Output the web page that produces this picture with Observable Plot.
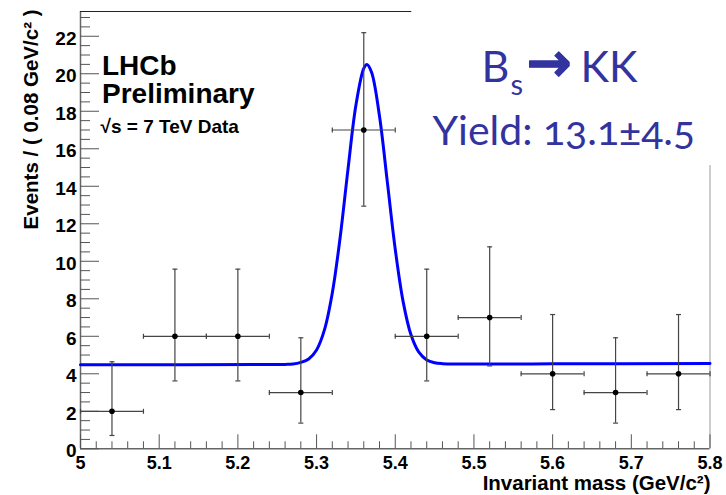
<!DOCTYPE html>
<html>
<head>
<meta charset="utf-8">
<script src="https://cdn.jsdelivr.net/npm/d3@7"></script>
<script src="https://cdn.jsdelivr.net/npm/@observablehq/plot@0.6"></script>
<style>
  html, body { margin: 0; padding: 0; background: #fff; }
  #chart svg { display: block; }
</style>
</head>
<body>
<div id="chart"></div>
<script>
// Bin centres (GeV/c^2), bin width 0.08
const massBins = [5.04, 5.12, 5.20, 5.28, 5.36, 5.44, 5.52, 5.60, 5.68, 5.76];
// Events per bin
const events = [2, 6, 6, 3, 17, 6, 7, 4, 3, 4];
// Asymmetric (Poisson) errors
const errLow  = [1.29, 2.38, 2.38, 1.63, 4.06, 2.38, 2.58, 1.91, 1.63, 1.91];
const errHigh = [2.64, 3.58, 3.58, 2.92, 5.19, 3.58, 3.77, 3.16, 2.92, 3.16];
const halfBin = 0.04;

// Fit curve (signal peak on flat background), sampled
const fitMass = [5.00, 5.26, 5.27, 5.28, 5.29, 5.30, 5.31, 5.32, 5.33, 5.34, 5.35, 5.36, 5.364,
                 5.37, 5.38, 5.39, 5.40, 5.41, 5.42, 5.43, 5.44, 5.45, 5.46, 5.48, 5.60, 5.80];
const fitEvents = [4.48, 4.50, 4.52, 4.61, 4.79, 5.27, 6.34, 8.31, 11.28, 14.93, 18.32, 20.29, 20.50,
                   20.07, 17.73, 14.21, 10.64, 7.85, 6.08, 5.15, 4.74, 4.59, 4.54, 4.52, 4.53, 4.55];

// Axis ticks and labels
const xMajor = [5.0, 5.1, 5.2, 5.3, 5.4, 5.5, 5.6, 5.7, 5.8];
const xTickLabels = ["5", "5.1", "5.2", "5.3", "5.4", "5.5", "5.6", "5.7", "5.8"];
const xMinor = d3.range(0, 41).map(i => 5 + i * 0.02).filter((v, i) => i % 5 !== 0);
const yMajor = [0, 2, 4, 6, 8, 10, 12, 14, 16, 18, 20, 22];
const yMinor = d3.range(0, 47).map(i => i * 0.5).filter((v, i) => i % 4 !== 0);

const xTitle = "Invariant mass (GeV/c²)";
const yTitle = "Events / ( 0.08 GeV/c² )";

const points = massBins.map((m, i) => ({
  m, n: events[i], lo: events[i] - errLow[i], hi: events[i] + errHigh[i],
  x1: m - halfBin, x2: m + halfBin
}));
const fit = fitMass.map((m, i) => ({m, v: fitEvents[i]}));

// small end caps for the error bars
const capH = {draw(ctx) { ctx.moveTo(-2.5, 0); ctx.lineTo(2.5, 0); }};
const capV = {draw(ctx) { ctx.moveTo(0, -2.5); ctx.lineTo(0, 2.5); }};

const yMax = 23.32;
const ink = "#444";
const blue = "#3333a0";
const helv = "'Liberation Sans', Arial, Helvetica, sans-serif";
const sans = "Lato, 'Open Sans', sans-serif";

const chart = Plot.plot({
  width: 726,
  height: 495,
  marginTop: 11,
  marginRight: 16.5,
  marginBottom: 46.7,
  marginLeft: 80,
  x: {domain: [5, 5.8], label: null},
  y: {domain: [0, yMax], label: null},
  style: {fontFamily: helv, background: "#fff", color: "#000", overflow: "visible"},
  marks: [
    // frame
    Plot.ruleX([5], {stroke: "#666", strokeWidth: 1.5}),
    Plot.ruleY([0], {stroke: "#666", strokeWidth: 1.5}),
    Plot.ruleY([yMax], {x1: 5, x2: 5.421, stroke: "#222", strokeWidth: 1}),
    Plot.ruleX([5.8], {y1: 0, y2: 15.1, stroke: "#999", strokeWidth: 1}),

    // x ticks (inward)
    Plot.axisX(xMinor, {tickSize: -7, tickFormat: () => "", stroke: "#555"}),
    Plot.axisX(xMajor, {tickSize: -14, tickFormat: () => "", stroke: "#555"}),
    Plot.axisX(xMajor, {tickSize: 0, tickPadding: 7, tickFormat: (d, i) => xTickLabels[i],
                        fontSize: 18, fontWeight: "bold", fill: "#000"}),
    // y ticks (inward)
    Plot.axisY(yMinor, {tickSize: -10, tickFormat: () => "", stroke: "#555"}),
    Plot.axisY(yMajor, {tickSize: -19, tickFormat: () => "", stroke: "#555"}),
    Plot.axisY(yMajor, {tickSize: 0, tickPadding: 4, dy: 2.5, tickFormat: d => String(d),
                        fontSize: 19, fontWeight: "bold", fill: "#000"}),

    // axis titles
    Plot.text([xTitle], {frameAnchor: "bottom-right", textAnchor: "end", lineAnchor: "bottom",
                         dx: 0.5, dy: 41, fontSize: 20.5, fontWeight: "bold", fill: "#000"}),
    Plot.text([yTitle], {frameAnchor: "top-left", textAnchor: "end", lineAnchor: "bottom",
                         rotate: -90, dx: -43, dy: -2, fontSize: 20.5, fontWeight: "bold", fill: "#000"}),

    // fit curve
    Plot.line(fit, {x: "m", y: "v", curve: "catmull-rom", stroke: "#0000ff", strokeWidth: 3}),

    // error bars
    Plot.ruleX(points, {x: "m", y1: "lo", y2: "hi", stroke: ink, strokeWidth: 1.2}),
    Plot.ruleY(points, {y: "n", x1: "x1", x2: "x2", stroke: ink, strokeWidth: 1.2}),
    Plot.dot(points, {x: "m", y: "lo", symbol: capH, stroke: ink, fill: "none", strokeWidth: 1.2}),
    Plot.dot(points, {x: "m", y: "hi", symbol: capH, stroke: ink, fill: "none", strokeWidth: 1.2}),
    Plot.dot(points, {x: "x1", y: "n", symbol: capV, stroke: ink, fill: "none", strokeWidth: 1.2}),
    Plot.dot(points, {x: "x2", y: "n", symbol: capV, stroke: ink, fill: "none", strokeWidth: 1.2}),
    Plot.dot(points, {x: "m", y: "n", r: 2.8, fill: "#000", stroke: "none"}),

    // experiment label
    Plot.text(["LHCb"], {frameAnchor: "top-left", textAnchor: "start", lineAnchor: "bottom",
                         dx: 21.5, dy: 63, fontSize: 28, fontWeight: "bold", fill: "#000"}),
    Plot.text(["Preliminary"], {frameAnchor: "top-left", textAnchor: "start", lineAnchor: "bottom",
                         dx: 21.5, dy: 91.3, fontSize: 28, fontWeight: "bold", fill: "#000"}),
    Plot.text(["√s = 7 TeV Data"], {frameAnchor: "top-left", textAnchor: "start", lineAnchor: "bottom",
                         dx: 20, dy: 121.7, fontSize: 19, fontWeight: "bold", fill: "#000"}),

    // decay and yield
    Plot.text(["B"], {frameAnchor: "top-left", textAnchor: "start", lineAnchor: "bottom",
                      dx: 401, dy: 70.7, fontSize: 43, fontFamily: sans, fill: blue}),
    Plot.text(["s"], {frameAnchor: "top-left", textAnchor: "start", lineAnchor: "bottom",
                      dx: 430, dy: 83, fontSize: 29, fontFamily: sans, fill: blue}),
    Plot.text(["→"], {frameAnchor: "top-left", textAnchor: "start", lineAnchor: "bottom",
                      dx: 446, dy: 69, fontSize: 54, fontWeight: "bold", fontFamily: "'DejaVu Sans'",
                      fill: blue, stroke: blue, strokeWidth: 1.2}),
    Plot.text(["KK"], {frameAnchor: "top-left", textAnchor: "start", lineAnchor: "bottom",
                      dx: 500, dy: 70.7, fontSize: 43, fontFamily: sans, fill: blue}),
    Plot.text(["Yield: 13.1±4.5"], {frameAnchor: "top-left", textAnchor: "start", lineAnchor: "bottom",
                      dx: 352, dy: 133, fontSize: 41, fontFamily: sans, fontVariant: "oldstyle-nums",
                      fill: blue})
  ]
});

document.getElementById("chart").append(chart);
</script>
</body>
</html>
